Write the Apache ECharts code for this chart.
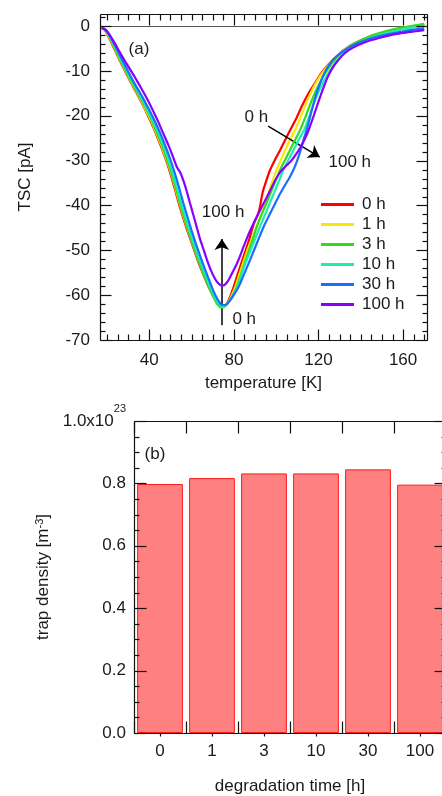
<!DOCTYPE html>
<html>
<head>
<meta charset="utf-8">
<script src="https://cdn.jsdelivr.net/npm/echarts@6/dist/echarts.min.js"></script>
<style>
  html, body { margin: 0; padding: 0; background: #ffffff; }
  #chart { width: 442px; height: 796px; }
</style>
</head>
<body>
<div id="chart"></div>
<script>
// ---------- (a) thermally stimulated current curves: [temperature K, TSC pA] ----------
const curve0h = [
  [17.5,-0.4],[18.5,-0.7],[19.5,-1.3],[20.5,-2.2],[22,-3.6],[24,-5.6],[26,-7.6],[28,-9.5],[30,-11.4],[32,-13.2],
  [34,-14.9],[36,-16.7],[38,-18.6],[40,-20.6],[42,-22.7],[44,-25],[46,-27.4],[48,-30],[50,-32.9],[52,-36.2],
  [54,-39.6],[56,-42.7],[58,-45.6],[60,-48.3],[62,-51],[64,-53.6],[66,-55.9],[68,-58.1],[70,-60],[72,-61.5],
  [73.5,-62.2],[75,-62.5],[76.5,-62],[78,-60.6],[79.7,-58.4],[81.2,-56.2],[82.8,-53.9],[84.4,-51.6],[86,-49.4],
  [87.3,-47.5],[88.4,-45.7],[89.3,-44.3],[90,-43.4],[90.8,-42.6],[91.5,-41.8],[92.3,-40.4],[93,-38.5],[93.8,-36.7],
  [95.3,-34.5],[97,-32.2],[99.2,-30],[101.7,-27.8],[104,-25.6],[106.5,-23.3],[109.6,-20.5],[112.5,-17.5],
  [115.5,-14.8],[118.5,-12.6],[121.5,-10.4],[125,-8.4],[128.5,-6.8],[132,-5.3],[136.4,-4],[142,-2.8],[149,-1.7],
  [155,-1],[160,-0.6],[165,-0.2],[170,0.3]
];
const curve1h = [
  [17.5,-0.4],[18.5,-0.7],[19.5,-1.2],[20.5,-2.1],[22,-3.4],[24,-5.4],[26,-7.4],[28,-9.3],[30,-11.2],[32,-13],
  [34,-14.7],[36,-16.5],[38,-18.4],[40,-20.3],[42,-22.4],[44,-24.6],[46,-27],[48,-29.6],[50,-32.4],[52,-35.6],
  [54,-39],[56,-42.2],[58,-45.1],[60,-47.9],[62,-50.6],[64,-53.2],[66,-55.6],[68,-57.8],[70,-59.8],[72,-61.4],
  [73.5,-62.3],[75,-62.6],[76.5,-62.2],[78,-61],[80.5,-58.4],[82,-56.2],[83.6,-53.9],[85.2,-51.6],[86.8,-49.4],
  [88.4,-47.5],[90,-45.7],[91.5,-43.8],[93.1,-41.9],[94.6,-39.7],[96.2,-37.5],[97.8,-35.2],[99.4,-33],
  [101.7,-30.4],[104.1,-27.8],[106.4,-25.5],[108.8,-23.3],[111,-20.9],[113.5,-18],[116.2,-15],[119.2,-12.3],
  [122.5,-10],[126,-8],[129.5,-6.4],[133,-5],[137.5,-3.8],[143,-2.6],[149,-1.6],[155,-0.9],[160,-0.4],
  [165,0],[170,0.4]
];
const curve3h = [
  [17.5,-0.4],[18.5,-0.6],[19.5,-1.1],[20.5,-1.9],[22,-3.2],[24,-5.2],[26,-7.2],[28,-9.1],[30,-11],[32,-12.8],
  [34,-14.5],[36,-16.2],[38,-18],[40,-19.9],[42,-22],[44,-24.2],[46,-26.6],[48,-29.2],[50,-32],[52,-35.2],
  [54,-38.6],[56,-41.9],[58,-44.9],[60,-47.8],[62,-50.6],[64,-53.2],[66,-55.7],[68,-58],[70,-60.1],[71.5,-61.5],
  [73,-62.5],[74,-62.8],[75.5,-62.6],[77,-61.9],[78.5,-60.8],[80,-59.6],[81.3,-58.2],[82.8,-56.2],[84.4,-53.9],
  [86,-51.6],[87.6,-49.4],[89.2,-47.2],[90.7,-44.9],[92.6,-42.6],[94.6,-40.4],[96.2,-38.5],[97.8,-36.7],
  [99.7,-34.5],[101.7,-32.2],[104,-30],[106.4,-27.8],[108.8,-25.5],[111.2,-23.3],[113.6,-20.5],[116.2,-17.3],
  [118.9,-14.3],[121.3,-12],[124,-9.9],[127.2,-7.8],[130.6,-6.1],[134,-4.8],[138,-3.6],[144,-2.3],[150,-1.4],
  [155,-0.8],[160,-0.3],[165,0.1],[170,0.5]
];
const curve10h = [
  [17.5,-0.4],[18.5,-0.6],[19.5,-1],[20.5,-1.7],[22,-3],[24,-4.9],[26,-6.9],[28,-8.8],[30,-10.6],[32,-12.4],
  [34,-14.1],[36,-15.8],[38,-17.6],[40,-19.5],[42,-21.5],[44,-23.6],[46,-25.9],[48,-28.4],[50,-31.2],[52,-34.3],
  [54,-37.7],[56,-41],[58,-44.1],[60,-47],[62,-49.8],[64,-52.4],[66,-54.9],[68,-57.3],[70,-59.5],[72,-61.3],
  [73.5,-62.3],[74.5,-62.6],[76,-62.3],[77.5,-61.5],[79,-60.5],[80.3,-59.4],[81.6,-58.2],[83.1,-56.1],
  [84.7,-53.9],[86.5,-51.6],[88.4,-49.4],[90,-47.5],[91.5,-45.7],[93.5,-43.4],[95.5,-41.2],[97.4,-39],
  [99.4,-36.7],[101.3,-34.5],[103.3,-32.2],[105.6,-30],[108,-27.8],[110.5,-25.5],[113.1,-23.3],[115.5,-20.3],
  [117.8,-17.2],[120.1,-14.6],[122.6,-12.2],[125.2,-10.1],[128.2,-8.1],[131.6,-6.3],[135,-5],[139,-3.8],
  [145,-2.6],[150,-1.8],[155,-1.2],[160,-0.7],[165,-0.3],[170,0]
];
const curve30h = [
  [17.5,-0.4],[18.5,-0.6],[19.5,-0.9],[20.5,-1.5],[22,-2.7],[24,-4.5],[26,-6.4],[28,-8.3],[30,-10.1],[32,-11.9],
  [34,-13.6],[36,-15.2],[38,-16.9],[40,-18.7],[42,-20.6],[44,-22.6],[46,-24.8],[48,-27.2],[50,-29.8],[52,-32.7],
  [54,-35.9],[56,-39.3],[58,-42.5],[60,-45.6],[62,-48.5],[64,-51.2],[66,-53.8],[68,-56.3],[70,-58.7],[72,-60.7],
  [73.5,-61.8],[74.5,-62.2],[76,-62.2],[78,-61.3],[80,-59.9],[81.5,-58.8],[82.8,-57.6],[84.8,-55.3],[86.8,-53.1],
  [88.8,-50.8],[90.7,-48.6],[92.6,-46.4],[94.6,-44.2],[96.6,-42.3],[98.6,-40.4],[101.7,-37.5],[104,-35.6],
  [106.4,-33.7],[108.5,-31.7],[110.3,-29.5],[111.8,-27.3],[113,-25.2],[114.3,-23.3],[115.9,-20.5],[117.5,-17.6],
  [119.1,-15],[120.8,-12.7],[122.7,-10.6],[124.8,-8.8],[127.3,-7.3],[130.7,-5.9],[134.7,-4.7],[139,-3.7],
  [145,-2.7],[150,-2.1],[155,-1.6],[160,-1.2],[165,-0.8],[170,-0.5]
];
const curve100h = [
  [17.5,-0.4],[18.5,-0.6],[19.5,-0.9],[20.6,-1.5],[22,-2.5],[23.8,-3.9],[26,-5.8],[28.5,-7.8],[31,-9.7],
  [33.2,-11.4],[36,-13.7],[39.5,-16.7],[42,-19.1],[44.2,-21.3],[46.5,-23.8],[49,-26.5],[51,-28.9],[52.9,-31.3],
  [54.8,-32.8],[56.3,-34.7],[57.8,-37],[59.2,-39.4],[61,-42.4],[62.5,-45],[64,-47.5],[65.5,-49.6],[67.1,-51.9],
  [69,-54.3],[71,-56.3],[72.5,-57.3],[74,-57.8],[75.2,-57.8],[76.5,-57.3],[78.1,-56.1],[79.7,-54.6],[81.3,-53.1],
  [82.9,-51.3],[84.4,-49.4],[86,-47.5],[87.6,-45.7],[89.5,-43.8],[91.5,-41.9],[93.5,-40],[95.5,-38.2],
  [97.5,-36.3],[99.4,-34.5],[101,-33.2],[102.5,-32.2],[104.8,-31.1],[107.2,-30],[109.5,-28.5],[111.5,-27],
  [113.5,-25.2],[115.5,-23],[117.3,-20.6],[119.1,-18.1],[120.9,-15.6],[122.7,-13.3],[124.6,-11.1],[126.8,-9.2],
  [129.3,-7.6],[132.5,-6],[136.4,-4.8],[142,-3.6],[149,-2.6],[155,-1.9],[160,-1.5],[165,-1.2],[170,-0.9]
];
const curveNames  = ['0 h', '1 h', '3 h', '10 h', '30 h', '100 h'];
const curveColors = ['#ff0000', '#f7ea00', '#33d91a', '#19efb0', '#1a6dff', '#8a00ff'];
const curves      = [curve0h, curve1h, curve3h, curve10h, curve30h, curve100h];

// axis ranges and ticks of panel (a)
const tempRange  = [16.7, 171.3];
const tempMajor  = [40, 80, 120, 160];
const tempMinor  = [20, 25, 30, 35, 45, 50, 55, 60, 65, 70, 75, 85, 90, 95, 100, 105, 110, 115,
                    125, 130, 135, 140, 145, 150, 155, 165, 170];
const tscRange   = [-70, 2.7];
const tscMajor   = [-70, -60, -50, -40, -30, -20, -10, 0];
const tscMinor   = [-68, -66, -64, -62, -58, -56, -54, -52, -48, -46, -44, -42, -38, -36, -34, -32,
                    -28, -26, -24, -22, -18, -16, -14, -12, -8, -6, -4, -2, 2];

// annotation arrows and labels of panel (a), in data coordinates
const shiftArrow = [[96.2, -22.3], [120.6, -29.2]];
const peakArrow  = [[74.3, -66.7], [74.3, -47.5]];
const annotations = [
  { name: '0 h',   at: [90.6, -20.4] },
  { name: '100 h', at: [134.8, -30.4] },
  { name: '100 h', at: [74.9, -41.6] },
  { name: '0 h',   at: [84.9, -65.3] },
  { name: '(a)',   at: [35.1, -5.2] }
];

// ---------- (b) trap density per degradation time ----------
const degradationHours = ['0', '1', '3', '10', '30', '100'];
const trapDensity      = [0.798, 0.817, 0.832, 0.832, 0.845, 0.796];
const densRange = [0, 1];
const densMajor = [0, 0.2, 0.4, 0.6, 0.8, 1.0];
const densMinor = [0.05, 0.1, 0.15, 0.25, 0.3, 0.35, 0.45, 0.5, 0.55, 0.65, 0.7, 0.75, 0.85, 0.9, 0.95];

// ---------- styling ----------
const FONT = '"Liberation Sans", Arial, Helvetica, sans-serif';
const INK = '#1a1a1a';
const AXIS = '#111111';
const labelStyle = { fontFamily: FONT, fontSize: 17, color: INK };
const noLine = { show: false };

const lineSeries = curves.map((data, i) => ({
  name: curveNames[i],
  type: 'line',
  xAxisIndex: 0,
  yAxisIndex: 0,
  data: data,
  symbol: 'none',
  showSymbol: false,
  smooth: 0.2,
  clip: true,
  color: curveColors[i],
  lineStyle: { color: curveColors[i], width: 2.2 },
  emphasis: { disabled: true },
  z: 3 + i
}));

// zero reference line under the curves
lineSeries[0].markLine = {
  silent: true, symbol: 'none', animation: false,
  label: { show: false },
  lineStyle: { color: '#555555', width: 1, type: 'solid' },
  data: [{ yAxis: 0 }]
};

// arrows and text annotations on top
lineSeries[5].markLine = {
  silent: true, animation: false,
  symbol: ['none', 'arrow'], symbolSize: 11,
  label: { show: false },
  lineStyle: { color: '#000000', width: 1.5, type: 'solid' },
  data: [
    [{ coord: shiftArrow[0] }, { coord: shiftArrow[1] }],
    [{ coord: peakArrow[0] }, { coord: peakArrow[1] }]
  ]
};
lineSeries[5].markPoint = {
  silent: true, animation: false,
  symbol: 'circle', symbolSize: 0,
  itemStyle: { color: 'transparent' },
  label: Object.assign({ show: true, position: 'inside', formatter: '{b}' }, labelStyle),
  data: annotations.map(a => ({ name: a.name, coord: a.at }))
};

const barSeries = {
  name: 'trap density',
  type: 'bar',
  xAxisIndex: 1,
  yAxisIndex: 1,
  data: trapDensity,
  barCategoryGap: '12%',
  itemStyle: { color: '#ff8080', borderColor: '#ff1a1a', borderWidth: 1 },
  emphasis: { disabled: true },
  z: 2
};

// ---------- frames and tick marks, drawn through the axes' own scales ----------
const crisp = v => Math.round(v) + 0.5;
function segment(list, x1, y1, x2, y2) {
  list.push({ type: 'line', silent: true,
              shape: { x1: x1, y1: y1, x2: x2, y2: y2 },
              style: { stroke: AXIS, lineWidth: 1.2, fill: 'none' } });
}

// panel (a): value axes on all four sides, ticks pointing inward
function renderFrameA(params, api) {
  const out = [];
  const tl = api.coord([tempRange[0], tscRange[1]]);
  const br = api.coord([tempRange[1], tscRange[0]]);
  const L = crisp(tl[0]), T = crisp(tl[1]), R = crisp(br[0]), B = crisp(br[1]);
  segment(out, L, T, R, T); segment(out, L, B, R, B);
  segment(out, L, T, L, B); segment(out, R, T, R, B);
  const xTick = (v, len) => { const x = crisp(api.coord([v, tscRange[0]])[0]); segment(out, x, B, x, B - len); segment(out, x, T, x, T + len); };
  const yTick = (v, len) => { const y = crisp(api.coord([tempRange[0], v])[1]); segment(out, L, y, L + len, y); segment(out, R, y, R - len, y); };
  tempMajor.forEach(v => xTick(v, 11));
  tempMinor.forEach(v => xTick(v, 6));
  tscMajor.forEach(v => yTick(v, 11));
  tscMinor.forEach(v => yTick(v, 5));
  return { type: 'group', children: out };
}

// panel (b): category boundaries get long inward ticks, category centres short outward ones
function renderFrameB(params, api) {
  const out = [];
  const c0 = api.coord([0, densRange[0]]);
  const c1 = api.coord([1, densRange[1]]);
  const band = c1[0] - c0[0];
  const left = c0[0] - band / 2;
  const L = crisp(left), B = crisp(c0[1]), T = crisp(c1[1]);
  const R = crisp(left + band * degradationHours.length);
  segment(out, L, T, R, T); segment(out, L, B, R, B);
  segment(out, L, T, L, B); segment(out, R, T, R, B);
  for (let i = 0; i <= degradationHours.length; i++) {
    const x = crisp(left + band * i);
    segment(out, x, B, x, B - 12);
    segment(out, x, T, x, T + 12);
  }
  degradationHours.forEach((h, i) => {
    const x = crisp(api.coord([i, 0])[0]);
    segment(out, x, B, x, B + 3);
  });
  const yTick = (v, len) => { const y = crisp(api.coord([0, v])[1]); segment(out, L, y, L + len, y); segment(out, R, y, R - len, y); };
  densMajor.forEach(v => yTick(v, 12));
  densMinor.forEach(v => yTick(v, 5));
  return { type: 'group', children: out };
}

// the frames sit on their own layer above everything else
const frameSeries = [
  { type: 'custom', name: 'frame a', xAxisIndex: 0, yAxisIndex: 0, clip: false, silent: true,
    zlevel: 1, z: 20, data: [[tempRange[0], tscRange[0]]], renderItem: renderFrameA },
  { type: 'custom', name: 'frame b', xAxisIndex: 1, yAxisIndex: 1, clip: false, silent: true,
    zlevel: 1, z: 20, data: [[0, densRange[0]]], renderItem: renderFrameB }
];

const chart = echarts.init(document.getElementById('chart'), null, { renderer: 'canvas' });
chart.setOption({
  animation: false,
  textStyle: { fontFamily: FONT },
  grid: [
    { left: 100, top: 14, width: 327, height: 326, outerBoundsMode: 'none' },
    { left: 134, top: 421, width: 312, height: 312, outerBoundsMode: 'none' }
  ],
  legend: {
    data: curveNames,
    orient: 'vertical',
    left: 321,
    top: 196,
    padding: 0,
    icon: 'rect',
    itemWidth: 33,
    itemHeight: 3,
    itemGap: 3,
    selectedMode: false,
    textStyle: Object.assign({ padding: [0, 0, 0, 3] }, labelStyle)
  },
  graphic: [
    { type: 'text', x: 155, y: 454, silent: true, z: 20,
      style: { text: '(b)', fontFamily: FONT, fontSize: 17, fill: INK, align: 'center', verticalAlign: 'middle' } }
  ],
  xAxis: [
    {
      gridIndex: 0, type: 'value', position: 'bottom',
      min: tempRange[0], max: tempRange[1],
      axisLine: noLine, axisTick: noLine, splitLine: noLine,
      axisLabel: Object.assign({ customValues: tempMajor, margin: 12 }, labelStyle),
      name: 'temperature [K]', nameLocation: 'middle', nameGap: 35, nameTextStyle: labelStyle
    },
    {
      gridIndex: 1, type: 'category', position: 'bottom', data: degradationHours,
      axisLine: noLine, axisTick: noLine, splitLine: noLine,
      axisLabel: Object.assign({ margin: 10, interval: 0 }, labelStyle),
      name: 'degradation time [h]', nameLocation: 'middle', nameGap: 45, nameTextStyle: labelStyle
    }
  ],
  yAxis: [
    {
      gridIndex: 0, type: 'value', position: 'left',
      min: tscRange[0], max: tscRange[1],
      axisLine: noLine, axisTick: noLine, splitLine: noLine,
      axisLabel: Object.assign({ customValues: tscMajor, margin: 10 }, labelStyle),
      name: 'TSC [pA]', nameLocation: 'middle', nameGap: 66, nameRotate: 90, nameTextStyle: labelStyle
    },
    {
      gridIndex: 1, type: 'value', position: 'left',
      min: densRange[0], max: densRange[1],
      axisLine: noLine, axisTick: noLine, splitLine: noLine,
      axisLabel: {
        customValues: densMajor,
        margin: 8,
        formatter: v => v === 1 ? '{b|1.0x10}{s|23}' : '{b|' + v.toFixed(1) + '}',
        rich: {
          b: { fontFamily: FONT, fontSize: 17, color: INK, lineHeight: 20, verticalAlign: 'middle' },
          s: { fontFamily: FONT, fontSize: 11, color: INK, lineHeight: 12, verticalAlign: 'middle', padding: [0, 0, 24, 0] }
        }
      },
      name: 'trap density [m{sup|-3}]', nameLocation: 'middle', nameGap: 66, nameRotate: 90,
      nameTextStyle: Object.assign({}, labelStyle, {
        rich: { sup: { fontFamily: FONT, fontSize: 11, color: INK, lineHeight: 12, verticalAlign: 'top' } }
      })
    }
  ],
  series: lineSeries.concat([barSeries], frameSeries)
});
</script>
</body>
</html>
